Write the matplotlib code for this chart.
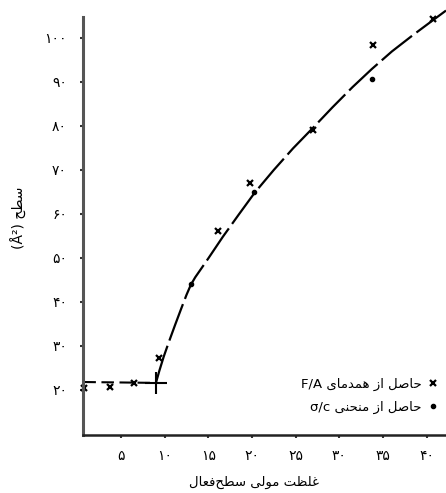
import matplotlib as mpl
mpl.use('Agg')
import matplotlib.pyplot as plt
from matplotlib.lines import Line2D

plt.rcParams['font.family'] = ['DejaVu Sans']
plt.rcParams['lines.scale_dashes'] = False

# F/A isotherm points (x markers)
fa_x = [0.8, 3.8, 6.5, 9.3, 16.1, 19.75, 26.95, 33.8, 40.7]
fa_y = [20.5, 20.7, 21.5, 27.3, 56.1, 67.0, 79.1, 98.4, 104.3]
# sigma/c curve points (dots)
sc_x = [13.0, 20.2, 33.7]
sc_y = [44.1, 65.0, 90.7]
# cmc break point
cmc_x = [9.0]
cmc_y = [21.6]
# flat part and fitted curve
flat_x = [0.7, 9.0]
flat_y = [21.8, 21.6]
curve_x = [9.0, 9.4, 9.9, 10.5, 11.2, 11.9, 12.5, 13.0, 13.5, 14.2, 15.0, 16.66, 18.5, 20.3,
           22.5, 24.7, 26.95, 29.2, 31.5, 33.7, 36.0, 38.4, 40.7, 42.2]
curve_y = [21.6, 24.4, 27.6, 31.0, 34.8, 38.5, 41.6, 43.9, 45.6, 47.6, 49.9, 54.8, 59.9, 64.8,
           70.0, 74.9, 79.5, 84.2, 88.8, 92.9, 96.9, 100.6, 104.0, 106.2]

xticks = [5, 10, 15, 20, 25, 30, 35, 40]
yticks = [20, 30, 40, 50, 60, 70, 80, 90, 100]

xlabel = 'غلظت مولی سطح\u200cفعال'
ylabel = 'سطح (Å²)'
leg_fa = 'حاصل از همدمای F/A'
leg_sc = 'حاصل از منحنی σ/c'

# simple arabic shaping: isolated, final, initial, medial
FORMS = {
    'ا': ('\uFE8D', '\uFE8E', None, None),
    'ت': ('\uFE95', '\uFE96', '\uFE97', '\uFE98'),
    'ح': ('\uFEA1', '\uFEA2', '\uFEA3', '\uFEA4'),
    'خ': ('\uFEA5', '\uFEA6', '\uFEA7', '\uFEA8'),
    'د': ('\uFEA9', '\uFEAA', None, None),
    'ر': ('\uFEAD', '\uFEAE', None, None),
    'ز': ('\uFEAF', '\uFEB0', None, None),
    'س': ('\uFEB1', '\uFEB2', '\uFEB3', '\uFEB4'),
    'ص': ('\uFEB9', '\uFEBA', '\uFEBB', '\uFEBC'),
    'ط': ('\uFEC1', '\uFEC2', '\uFEC3', '\uFEC4'),
    'ظ': ('\uFEC5', '\uFEC6', '\uFEC7', '\uFEC8'),
    'ع': ('\uFEC9', '\uFECA', '\uFECB', '\uFECC'),
    'غ': ('\uFECD', '\uFECE', '\uFECF', '\uFED0'),
    'ف': ('\uFED1', '\uFED2', '\uFED3', '\uFED4'),
    'ل': ('\uFEDD', '\uFEDE', '\uFEDF', '\uFEE0'),
    'م': ('\uFEE1', '\uFEE2', '\uFEE3', '\uFEE4'),
    'ن': ('\uFEE5', '\uFEE6', '\uFEE7', '\uFEE8'),
    'ه': ('\uFEE9', '\uFEEA', '\uFEEB', '\uFEEC'),
    'و': ('\uFEED', '\uFEEE', None, None),
    'ی': ('\uFBFC', '\uFBFD', '\uFBFE', '\uFBFF'),
}


def shape(word):
    out = []
    for i, ch in enumerate(word):
        if ch not in FORMS:
            if ch != '\u200c':
                out.append(ch)
            continue
        iso, fin, ini, med = FORMS[ch]
        prev = word[i - 1] if i > 0 else None
        nxt = word[i + 1] if i < len(word) - 1 else None
        jp = prev in FORMS and FORMS[prev][2] is not None
        jn = ini is not None and nxt in FORMS
        if jp and jn:
            out.append(med)
        elif jp:
            out.append(fin)
        elif jn:
            out.append(ini)
        else:
            out.append(iso)
    return ''.join(out)


def rtl(text):
    vis = []
    for tok in reversed(text.split(' ')):
        if any(c in FORMS for c in tok):
            vis.append(shape(tok)[::-1])
        else:
            vis.append(tok)
    return ' '.join(vis)


def fa_num(n):
    return str(n).translate(str.maketrans('0123456789', '۰۱۲۳۴۵۶۷۸۹'))


fig = plt.figure(figsize=(4.46, 4.93), dpi=100)
ax = fig.add_axes([0.186, 0.118, 0.814, 0.882])

ax.plot(flat_x, flat_y, color='black', lw=1.5, dashes=(9, 4))
ax.plot(curve_x, curve_y, color='black', lw=1.6, dashes=(28, 4), solid_capstyle='butt')
ax.plot(cmc_x, cmc_y, '+', color='black', ms=16, mew=1.5)
ax.plot(fa_x, fa_y, 'x', color='black', ms=4.5, mew=1.6, clip_on=False)
ax.plot(sc_x, sc_y, 'o', color='black', ms=3, clip_on=False)

ax.set_xlim(0.65, 42.2)
ax.set_ylim(9.8, 108.6)
ax.spines['top'].set_visible(False)
ax.spines['right'].set_visible(False)
ax.spines['left'].set_bounds(9.8, 104.8)
ax.spines['left'].set_linewidth(2.2)
ax.spines['left'].set_color('#555555')
ax.spines['bottom'].set_linewidth(1.8)
ax.spines['bottom'].set_color('#222222')

ax.set_xticks(xticks)
ax.set_xticklabels([fa_num(v) for v in xticks])
ax.set_yticks(yticks)
ax.set_yticklabels([fa_num(v) for v in yticks])
ax.tick_params(axis='y', length=2.5, width=1.5, pad=9, labelsize=10, color='#333333')
ax.tick_params(axis='x', length=2.5, width=1.5, pad=8, labelsize=10, color='#333333')

ax.set_xlabel(rtl(xlabel), fontsize=9.5)
ax.xaxis.set_label_coords(0.471, -0.095)
ax.set_ylabel(rtl(ylabel), fontsize=10)
ax.yaxis.set_label_coords(-0.155, 0.5)

handles = [Line2D([], [], marker='x', ls='none', color='black', ms=4.5, mew=1.6),
           Line2D([], [], marker='o', ls='none', color='black', ms=3)]
ax.legend(handles, [rtl(leg_fa), rtl(leg_sc)], loc='lower right', bbox_to_anchor=(0.998, 0.033),
          markerfirst=False, frameon=False, fontsize=9.5, handlelength=0.8, handletextpad=0.5,
          labelspacing=0.75, borderpad=0)

fig.savefig('out.png', dpi=100)
